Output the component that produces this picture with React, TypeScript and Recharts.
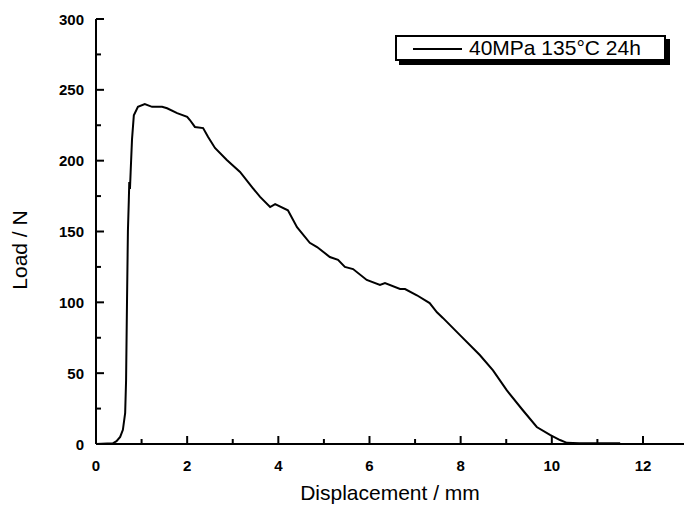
import React from "react";
import { LineChart, Line, XAxis, YAxis, Legend } from "recharts";

document.body.style.margin = "0";

const FONT = "'Liberation Sans', Arial, sans-serif";

// displacement (mm) and load (N)
const DISPLACEMENT = [
  0, 0.37, 0.45, 0.53, 0.59, 0.64, 0.66, 0.68, 0.7, 0.72, 0.73, 0.745, 0.76,
  0.79, 0.83, 0.92, 1.07, 1.23, 1.45, 1.56, 1.78, 2.0, 2.06, 2.17, 2.35, 2.46,
  2.61, 2.87, 3.16, 3.44, 3.6, 3.82, 3.93, 4.21, 4.41, 4.69, 4.85, 5.13, 5.31,
  5.46, 5.64, 5.94, 6.23, 6.34, 6.67, 6.78, 7.04, 7.32, 7.48, 7.61, 7.98, 8.42,
  8.71, 9.01, 9.36, 9.67, 9.96, 10.18, 10.33, 10.6, 11.5,
];
const LOAD = [
  0, 0.5, 2, 5, 10, 22, 45, 100, 150, 172, 185, 180, 192, 215, 232, 238, 240,
  238, 238, 237, 233.6, 231, 228.7, 223.8, 223, 216.7, 209, 200.5, 192, 180.7,
  174.4, 167.3, 169.4, 165, 153, 142, 139, 132, 130, 125, 123.5, 115.8, 112.2,
  113.6, 109.4, 109.4, 105, 99.5, 93, 89, 77, 62.8, 52, 38, 24, 12, 6.4, 2.8,
  0.8, 0.5, 0.5,
];

const X_TICKS = [0, 1, 2, 3, 4, 5, 6, 7, 8, 9, 10, 11, 12];
const Y_TICKS = [0, 25, 50, 75, 100, 125, 150, 175, 200, 225, 250, 275, 300];
const SERIES_NAME = "40MPa 135°C 24h";
const X_TITLE = "Displacement / mm";
const Y_TITLE = "Load / N";

const data = DISPLACEMENT.map((x, i) => ({ x, load: LOAD[i] }));

function BottomTick(props: any) {
  const { x, y, payload } = props;
  const major = payload.value % 2 === 0;
  return (
    <g>
      <line x1={x} x2={x} y1={y} y2={y - (major ? 8 : 5)} stroke="#000" strokeWidth={2} />
      {major && (
        <text x={x} y={y + 27} textAnchor="middle" fontSize={15} fontFamily={FONT} fontWeight="bold" fill="#000">
          {payload.value}
        </text>
      )}
    </g>
  );
}

function TopTick(props: any) {
  const { x, y, payload } = props;
  const major = payload.value % 2 === 0;
  return <line x1={x} x2={x} y1={y} y2={y + (major ? 8 : 5)} stroke="#000" strokeWidth={2} />;
}

function LeftTick(props: any) {
  const { x, y, payload } = props;
  const major = payload.value % 50 === 0;
  return (
    <g>
      <line x1={x} x2={x + (major ? 8 : 5)} y1={y} y2={y} stroke="#000" strokeWidth={2} />
      {major && (
        <text x={x - 12} y={y + 5.5} textAnchor="end" fontSize={15} fontFamily={FONT} fontWeight="bold" fill="#000">
          {payload.value}
        </text>
      )}
    </g>
  );
}

function LegendBox() {
  return (
    <div
      style={{
        boxSizing: "border-box",
        width: 271,
        height: 26,
        border: "2px solid #000",
        boxShadow: "4px 4px 0 #000",
        background: "#fff",
        display: "flex",
        alignItems: "center",
        fontFamily: FONT,
        fontSize: 21,
        color: "#000",
      }}
    >
      <svg width={72} height={20} style={{ flex: "none" }}>
        <line x1={16} x2={65} y1={11} y2={11} stroke="#000" strokeWidth={2} />
      </svg>
      <span style={{ whiteSpace: "nowrap", lineHeight: "22px" }}>{SERIES_NAME}</span>
    </div>
  );
}

export default function App() {
  return (
    <div style={{ width: 684, height: 511, background: "#fff" }}>
      <LineChart width={684} height={511} data={data} margin={{ top: 19, right: 0, bottom: 0, left: 0 }}>
        <XAxis
          xAxisId="top"
          orientation="top"
          dataKey="x"
          type="number"
          domain={[0, 12.9]}
          allowDataOverflow
          ticks={X_TICKS}
          interval={0}
          height={0}
          tickSize={0}
          tickMargin={0}
          tickLine={false}
          axisLine={{ stroke: "#000", strokeWidth: 2 }}
          tick={<TopTick />}
        />
        <XAxis
          xAxisId="bottom"
          dataKey="x"
          type="number"
          domain={[0, 12.9]}
          allowDataOverflow
          ticks={X_TICKS}
          interval={0}
          height={67}
          tickSize={0}
          tickMargin={0}
          tickLine={false}
          axisLine={{ stroke: "#000", strokeWidth: 2 }}
          tick={<BottomTick />}
          label={{
            value: X_TITLE,
            position: "insideBottom",
            offset: 11,
            fontSize: 21,
            fontFamily: FONT,
            fill: "#000",
          }}
        />
        <YAxis
          domain={[0, 300]}
          ticks={Y_TICKS}
          interval={0}
          width={96}
          tickSize={0}
          tickMargin={0}
          tickLine={false}
          axisLine={{ stroke: "#000", strokeWidth: 2 }}
          tick={<LeftTick />}
          label={{
            content: () => (
              <text
                x={27}
                y={250}
                transform="rotate(-90 27 250)"
                textAnchor="middle"
                fontSize={21}
                fontFamily={FONT}
                fill="#000"
              >
                {Y_TITLE}
              </text>
            ),
          }}
        />
        <Legend
          layout="vertical"
          verticalAlign="middle"
          align="center"
          content={<LegendBox />}
          wrapperStyle={{ left: 395, top: 35, width: 275, height: 30 }}
        />
        <Line
          xAxisId="bottom"
          type="linear"
          dataKey="load"
          name={SERIES_NAME}
          stroke="#000"
          strokeWidth={2}
          dot={false}
          isAnimationActive={false}
        />
      </LineChart>
    </div>
  );
}
